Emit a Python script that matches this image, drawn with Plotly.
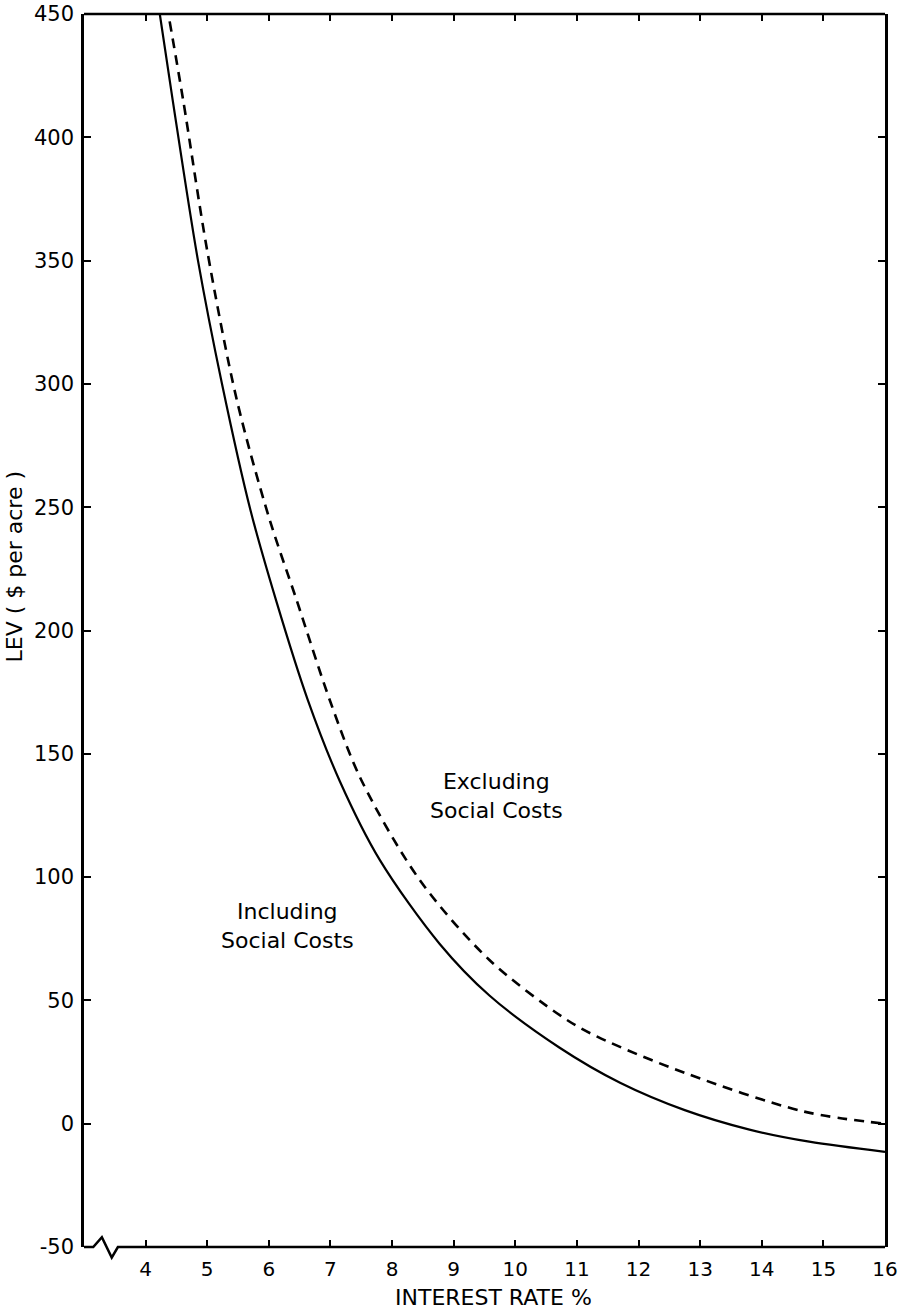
import plotly.graph_objects as go

# Data
rate_incl = [4.23, 4.44, 4.85, 5.24, 5.7, 6.12, 6.63, 7.15, 7.80, 8.77, 9.58, 10.72, 11.7, 12.75, 13.8, 14.77, 16]
lev_incl = [450, 415, 350, 300, 249, 212, 172, 139, 107, 73, 52, 30.8, 16.6, 5.5, -2.4, -7.3, -11.4]

rate_excl = [4.39, 4.61, 5.0, 5.48, 6.0, 6.45, 7.0, 7.50, 8.45, 9.58, 10.80, 11.33, 12.75, 14.69, 16]
lev_excl = [447, 415, 354, 293.5, 246, 212.4, 171, 139.4, 98.8, 66.4, 42.7, 35.3, 20.6, 4.9, 0]

x_ticks = [4, 5, 6, 7, 8, 9, 10, 11, 12, 13, 14, 15, 16]
y_ticks = [-50, 0, 50, 100, 150, 200, 250, 300, 350, 400, 450]
y_ticktext = ["-50", "0", "50", "100", "150", "200", "250", "300", "350", "400", "450"]

FONT = "DejaVu Sans"
X_MIN, X_MAX = 3, 16
Y_MIN, Y_MAX = -50, 450

fig = go.Figure()
fig.add_trace(go.Scatter(
    x=rate_incl, y=lev_incl, mode="lines",
    line=dict(color="black", width=2.2, shape="spline", smoothing=0.9),
    name="Including Social Costs", showlegend=False))
fig.add_trace(go.Scatter(
    x=rate_excl, y=lev_excl, mode="lines",
    line=dict(color="black", width=2.6, dash="10px,7px", shape="spline", smoothing=0.9),
    name="Excluding Social Costs", showlegend=False))

fig.update_layout(
    width=901, height=1311,
    margin=dict(l=84, r=16, t=14, b=64),
    paper_bgcolor="white", plot_bgcolor="white",
    font=dict(family=FONT, color="black", size=20),
    xaxis=dict(range=[X_MIN, X_MAX], tickvals=x_ticks, ticks="inside", ticklen=7, tickwidth=2,
               tickcolor="black", showline=True, linecolor="white", linewidth=0.5,
               mirror="ticks", showgrid=False,
               zeroline=False, tickfont=dict(size=20, family=FONT), ticklabelstandoff=4,
               automargin=False),
    yaxis=dict(range=[Y_MIN, Y_MAX], tickvals=y_ticks, ticktext=y_ticktext, ticks="inside",
               ticklen=7, tickwidth=2, tickcolor="black", showline=True, linewidth=2.5,
               linecolor="black", mirror="ticks", showgrid=False, zeroline=False,
               tickfont=dict(size=21, family=FONT), ticklabelstandoff=3,
               automargin=False),
)

# top frame line
fig.add_shape(type="line", xref="paper", yref="paper", x0=0, x1=1, y0=1, y1=1,
              line=dict(color="black", width=2.5))


# bottom axis line with break symbol (paper coordinates)
def px(v):
    return (v - X_MIN) / (X_MAX - X_MIN)


def py(v):
    return (v - Y_MIN) / (Y_MAX - Y_MIN)


brk = [(3.0, -50), (3.15, -50), (3.29, -46), (3.45, -54.3), (3.55, -50), (16, -50)]
path = "M " + " L ".join(f"{px(a):.5f},{py(b):.5f}" for a, b in brk)
fig.add_shape(type="path", xref="paper", yref="paper", path=path,
              line=dict(color="black", width=2.5))

fig.add_annotation(x=9.70, y=133, xref="x", yref="y", showarrow=False,
                   text="Excluding<br>Social Costs", font=dict(size=22, family=FONT),
                   align="center")
fig.add_annotation(x=6.31, y=80, xref="x", yref="y", showarrow=False,
                   text="Including<br>Social Costs", font=dict(size=22, family=FONT),
                   align="center")
fig.add_annotation(x=0.511, y=-0.0406, xref="paper", yref="paper", showarrow=False,
                   text="INTEREST RATE %", font=dict(size=22, family=FONT),
                   xanchor="center", yanchor="middle")
fig.add_annotation(x=-0.088, y=0.5515, xref="paper", yref="paper", showarrow=False,
                   text="LEV ( $ per acre )", textangle=-90, font=dict(size=22, family=FONT),
                   xanchor="center", yanchor="middle")

fig.write_html("out.html",
               config={"displayModeBar": False},
               post_script="document.body.style.margin='0';document.body.style.padding='0';"
                           "document.documentElement.style.overflow='hidden';")
